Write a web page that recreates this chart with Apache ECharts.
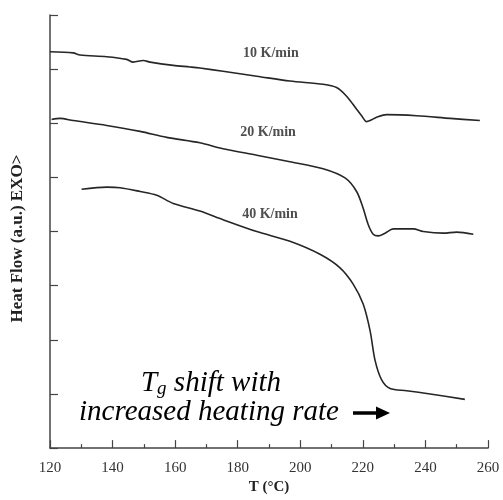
<!DOCTYPE html>
<html>
<head>
<meta charset="utf-8">
<script src="https://cdn.jsdelivr.net/npm/echarts@6/dist/echarts.min.js"></script>
<style>html,body{margin:0;padding:0;background:#fff}#c{width:503px;height:500px}</style>
</head>
<body>
<div id="c"></div>
<script>
const temp10 = [120,127.4,129.6,138.1,144.5,146.6,149.8,152.0,159.4,164.7,167.9,175.3,186.1,196.7,207.3,211.6,214.8,218.0,219.6,221.2,222.3,224.4,227.6,237.2,247.9,257.4];
const flow10 = [7.32,7.30,7.26,7.23,7.18,7.13,7.16,7.13,7.07,7.04,7.02,6.96,6.87,6.78,6.72,6.66,6.50,6.26,6.14,6.03,6.05,6.11,6.16,6.14,6.09,6.05];
const temp20 = [120.5,123.2,127.4,138.1,148.8,157.3,167.9,175.3,186.1,196.7,207.3,214.3,218.0,220.1,221.7,223.3,224.9,227.1,229.7,236.1,239.3,245.7,250.0,255.3];
const flow20 = [6.07,6.09,6.05,5.96,5.85,5.74,5.64,5.53,5.41,5.29,5.16,4.99,4.74,4.43,4.13,3.95,3.92,3.97,4.05,4.05,4.00,3.97,3.99,3.95];
const temp40 = [130.1,138.1,142.4,148.8,154.1,159.4,167.9,175.3,186.1,196.7,206.3,212.7,216.9,220.1,222.3,223.9,226.0,228.7,234.0,241.5,252.6];
const flow40 = [4.78,4.82,4.81,4.74,4.67,4.52,4.38,4.22,4.00,3.82,3.58,3.33,3.03,2.66,2.17,1.62,1.26,1.10,1.06,1.00,0.90];
const rateNames = ['10 K/min','20 K/min','40 K/min'];
const rateLabelT = [190.6,189.7,190.3];
const rateLabelHF = [7.29,5.84,4.32];
const xTicks = [120,140,160,180,200,220,240,260];

const zip = (a,b) => a.map((v,i)=>[v,b[i]]);
const serif = '"Liberation Serif","Times New Roman",serif';
const lineStyle = {color:'#262626', width:1.6};
const mkLine = (t,f) => ({type:'line', data: zip(t,f), showSymbol:false, smooth:0.3, lineStyle, silent:true});

const chart = echarts.init(document.getElementById('c'), null, {renderer:'canvas'});
chart.setOption({
  animation:false,
  backgroundColor:'#fff',
  grid:{left:50,right:15,top:15,bottom:48},
  xAxis:{
    type:'value', min:xTicks[0], max:xTicks[xTicks.length-1], interval:20,
    name:'T (°C)', nameLocation:'middle', nameGap:25,
    nameTextStyle:{fontFamily:serif, fontWeight:'bold', fontSize:15, color:'#222'},
    axisLine:{lineStyle:{color:'#444', width:1.5}},
    axisTick:{inside:true, length:8, lineStyle:{color:'#444', width:1.2}},
    minorTick:{show:true, splitNumber:2, length:4, lineStyle:{color:'#444', width:1.2}},
    splitLine:{show:false},
    axisLabel:{fontFamily:serif, fontSize:15, color:'#333', margin:12}
  },
  yAxis:{
    type:'value', min:0, max:8, interval:1,
    name:'Heat Flow (a.u.) EXO>', nameLocation:'middle', nameGap:24,
    nameTextStyle:{fontFamily:serif, fontWeight:'bold', fontSize:17, color:'#222', padding:[0,14,0,0]},
    axisLine:{show:true, lineStyle:{color:'#444', width:1.5}},
    axisTick:{show:true, inside:true, length:8, lineStyle:{color:'#444', width:1.2}},
    axisLabel:{show:false},
    splitLine:{show:false}
  },
  series:[
    mkLine(temp10, flow10),
    mkLine(temp20, flow20),
    mkLine(temp40, flow40),
    {
      type:'scatter', symbolSize:0, silent:true,
      data: rateNames.map((n,i)=>({name:n, value:[rateLabelT[i], rateLabelHF[i]]})),
      label:{show:true, position:'inside', formatter:p=>p.name, fontFamily:serif, fontWeight:'bold', fontSize:14, color:'#222'}
    }
  ],
  graphic:[
    {
      type:'text', x:211, y:380,
      style:{
        text:'{a|T}{b|g}{a| shift with}',
        align:'center', verticalAlign:'middle',
        rich:{
          a:{fontFamily:serif, fontStyle:'italic', fontSize:29, lineHeight:36, verticalAlign:'bottom', fill:'#000'},
          b:{fontFamily:serif, fontStyle:'italic', fontSize:19, lineHeight:21, verticalAlign:'bottom', fill:'#000'}
        }
      }
    },
    {
      type:'text', x:209, y:412,
      style:{text:'increased heating rate', fontFamily:serif, fontStyle:'italic', fontSize:29, align:'center', verticalAlign:'middle', fill:'#000'}
    },
    {type:'line', shape:{x1:353, y1:413, x2:379, y2:413}, style:{stroke:'#000', lineWidth:3.5}},
    {type:'polygon', shape:{points:[[376,406.5],[390,413],[376,419.5]]}, style:{fill:'#000'}}
  ]
});
</script>
</body>
</html>
